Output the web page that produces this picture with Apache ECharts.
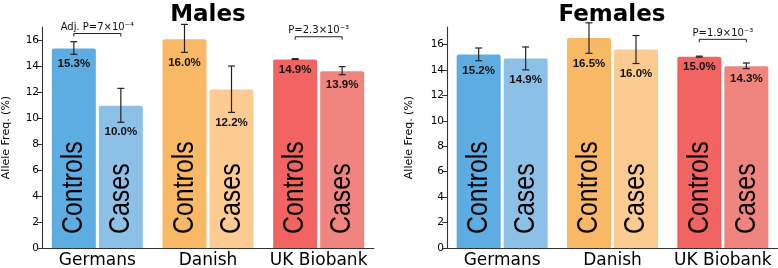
<!DOCTYPE html>
<html>
<head>
<meta charset="utf-8">
<script src="https://cdn.jsdelivr.net/npm/echarts@6/dist/echarts.min.js"></script>
<style>
  html, body { margin: 0; padding: 0; background: #fff; }
  #chart { width: 778px; height: 268px; }
</style>
</head>
<body>
<div id="chart"></div>
<script>
const cohorts = ["Germans", "Danish", "UK Biobank"];
const groups = ["Controls", "Cases"];
const yTicks = [0, 2, 4, 6, 8, 10, 12, 14, 16];

// Males
const maleControls = [15.35, 16.05, 14.5];
const maleCases = [10.95, 12.2, 13.6];
const maleControlsErr = [[14.9, 15.87], [15.05, 17.2], [14.5, 14.56]];
const maleCasesErr = [[9.67, 12.28], [10.43, 14.0], [13.33, 13.95]];
const maleControlsLabel = ["15.3%", "16.0%", "14.9%"];
const maleCasesLabel = ["10.0%", "12.2%", "13.9%"];
const maleTests = [[0, 16.5, "Adj. P=7×10⁻⁴"], [2, 16.25, "P=2.3×10⁻³"]];

// Females
const femaleControls = [15.2, 16.5, 15.04];
const femaleCases = [14.9, 15.6, 14.28];
const femaleControlsErr = [[14.72, 15.72], [15.3, 17.7], [15.0, 15.08]];
const femaleCasesErr = [[14.0, 15.8], [14.5, 16.7], [14.1, 14.54]];
const femaleControlsLabel = ["15.2%", "16.5%", "15.0%"];
const femaleCasesLabel = ["14.9%", "16.0%", "14.3%"];
const femaleTests = [[2, 16.4, "P=1.9×10⁻³"]];

const controlColors = ["#5DADE2", "#F9B866", "#F26461"];
const caseColors = ["#8CC0E7", "#FBCB91", "#F08580"];

const BAR_W = 44;
const BAR_GAP = 3;
const OFFSET = (BAR_W + BAR_GAP) / 2;
const INK = "#222";

const chart = echarts.init(document.getElementById("chart"));

// error bars + value labels under them
function errRender(labels) {
  return function (params, api) {
    const cat = api.value(0);
    const side = api.value(1);
    const lo = api.value(2);
    const hi = api.value(3);
    const x = api.coord([cat, 0])[0] + (side ? OFFSET : -OFFSET);
    const yl = api.coord([cat, lo])[1];
    const yh = api.coord([cat, hi])[1];
    const st = { stroke: INK, lineWidth: 1.2 };
    return {
      type: "group",
      children: [
        { type: "line", shape: { x1: x, y1: yh, x2: x, y2: yl }, style: st },
        { type: "line", shape: { x1: x - 3.5, y1: yh, x2: x + 3.5, y2: yh }, style: st },
        { type: "line", shape: { x1: x - 3.5, y1: yl, x2: x + 3.5, y2: yl }, style: st },
        {
          type: "text",
          x: x,
          y: yl + 10,
          style: {
            text: labels[params.dataIndex],
            align: "center",
            verticalAlign: "middle",
            fill: "#111",
            fontSize: 11.5,
            fontWeight: "bold",
            fontFamily: "'Liberation Sans', Arial, sans-serif",
          },
        },
      ],
    };
  };
}

// "Controls" / "Cases" written up the bars, a bit condensed
function nameRender(params, api) {
  const cat = api.value(0);
  const side = api.value(1);
  const base = api.coord([cat, 0]);
  const x = base[0] + (side ? OFFSET : -OFFSET);
  return {
    type: "text",
    x: x,
    y: base[1] - 14,
    rotation: Math.PI / 2,
    scaleX: 0.83,
    style: {
      text: groups[side],
      align: "left",
      verticalAlign: "middle",
      fill: "#000",
      fontSize: 30,
      fontFamily: "'Liberation Sans', Arial, sans-serif",
    },
  };
}

// significance brackets
function testRender(texts) {
  return function (params, api) {
    const cat = api.value(0);
    const cx = api.coord([cat, 0])[0];
    const y = api.coord([cat, api.value(1)])[1];
    const x0 = cx - OFFSET;
    const x1 = cx + OFFSET;
    return {
      type: "group",
      children: [
        {
          type: "polyline",
          shape: { points: [[x0, y + 3], [x0, y], [x1, y], [x1, y + 3]] },
          style: { stroke: INK, lineWidth: 1, fill: null },
        },
        {
          type: "text",
          x: cx,
          y: y - 1,
          style: {
            text: texts[params.dataIndex],
            align: "center",
            verticalAlign: "bottom",
            fill: "#111",
            fontSize: 10,
            fontFamily: "'DejaVu Sans', sans-serif",
          },
        },
      ],
    };
  };
}

function panel(idx, controls, cases, ctrlErr, caseErr, ctrlLab, caseLab, tests) {
  const bar = (name, vals, colors) => ({
    name: name,
    type: "bar",
    xAxisIndex: idx,
    yAxisIndex: idx,
    barWidth: BAR_W,
    barGap: (BAR_GAP / BAR_W) * 100 + "%",
    data: vals.map((v, i) => ({
      value: v,
      itemStyle: { color: colors[i], borderRadius: [2, 2, 0, 0] },
    })),
  });
  const errData = ctrlErr
    .map((e, i) => [i, 0, e[0], e[1]])
    .concat(caseErr.map((e, i) => [i, 1, e[0], e[1]]));
  const errLabels = ctrlLab.concat(caseLab);
  return [
    bar(groups[0], controls, controlColors),
    bar(groups[1], cases, caseColors),
    {
      type: "custom",
      xAxisIndex: idx,
      yAxisIndex: idx,
      z: 4,
      renderItem: nameRender,
      data: cohorts.map((c, i) => [i, 0]).concat(cohorts.map((c, i) => [i, 1])),
    },
    {
      type: "custom",
      xAxisIndex: idx,
      yAxisIndex: idx,
      z: 5,
      renderItem: errRender(errLabels),
      data: errData,
    },
    {
      type: "custom",
      xAxisIndex: idx,
      yAxisIndex: idx,
      z: 5,
      renderItem: testRender(tests.map((t) => t[2])),
      data: tests.map((t) => [t[0], t[1]]),
    },
  ];
}

const axisLine = { show: true, lineStyle: { color: "#333", width: 1.1 } };

function xAxis(idx) {
  return {
    type: "category",
    gridIndex: idx,
    data: cohorts,
    axisLine: axisLine,
    axisTick: { show: false },
    axisLabel: {
      interval: 0,
      color: "#000",
      fontSize: 17,
      margin: 4,
      fontFamily: "'DejaVu Sans', sans-serif",
    },
  };
}

function yAxis(idx, max, gap) {
  return {
    type: "value",
    gridIndex: idx,
    min: 0,
    max: max,
    interval: 2,
    name: "Allele Freq. (%)",
    nameLocation: "middle",
    nameGap: gap,
    nameTextStyle: {
      color: "#000",
      fontSize: 11,
      fontFamily: "'DejaVu Sans', sans-serif",
    },
    axisLine: axisLine,
    axisTick: { show: true, length: 5, customValues: yTicks, lineStyle: { color: "#333" } },
    axisLabel: {
      color: "#000",
      fontSize: 10.5,
      margin: 3,
      customValues: yTicks,
      fontFamily: "'DejaVu Sans', sans-serif",
    },
    splitLine: { show: false },
  };
}

const titleStyle = {
  fontSize: 23,
  fontWeight: "bold",
  color: "#000",
  fontFamily: "'DejaVu Sans', sans-serif",
};

chart.setOption({
  animation: false,
  backgroundColor: "#fff",
  title: [
    { text: "Males", left: 208, top: 4, textAlign: "center", padding: 0, textStyle: titleStyle },
    { text: "Females", left: 612, top: 4, textAlign: "center", padding: 0, textStyle: titleStyle },
  ],
  grid: [
    { left: 42, right: 404, top: 27, bottom: 20, outerBoundsMode: "none" },
    { left: 447, right: 0, top: 27, bottom: 20, outerBoundsMode: "none" },
  ],
  xAxis: [xAxis(0), xAxis(1)],
  yAxis: [yAxis(0, 17, 30), yAxis(1, 17.37, 32)],
  series: panel(0, maleControls, maleCases, maleControlsErr, maleCasesErr,
      maleControlsLabel, maleCasesLabel, maleTests)
    .concat(panel(1, femaleControls, femaleCases, femaleControlsErr, femaleCasesErr,
      femaleControlsLabel, femaleCasesLabel, femaleTests)),
});
</script>
</body>
</html>
